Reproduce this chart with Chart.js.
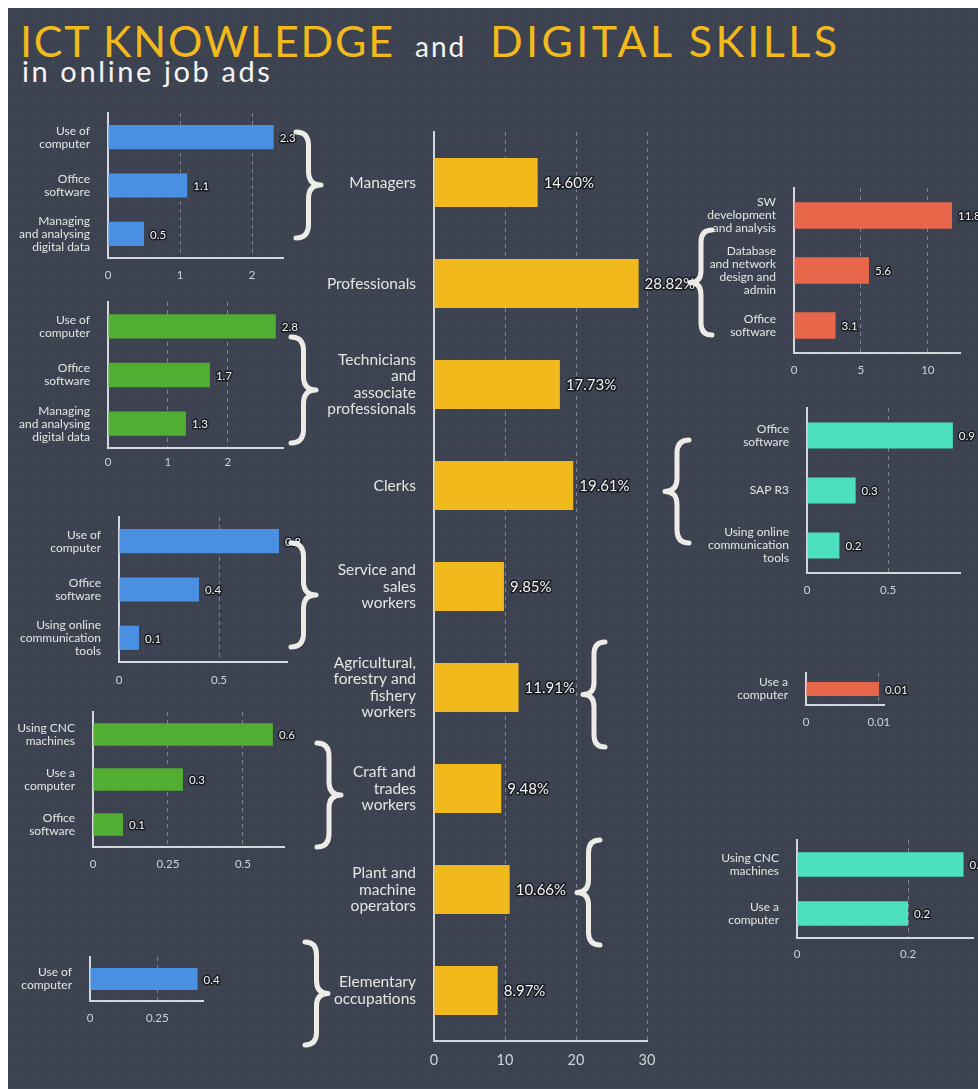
<!DOCTYPE html>
<html>
<head>
<meta charset="utf-8">
<script src="https://cdn.jsdelivr.net/npm/chart.js@4.4.1/dist/chart.umd.min.js"></script>
<style>
    html, body { margin: 0; padding: 0; background: #fff; }
    body { width: 978px; height: 1089px; position: relative; overflow: hidden; font-family: Lato, 'Open Sans', sans-serif; }
    #board {
        position: absolute; left: 8px; top: 8px; right: 0; bottom: 0;
        background-color: #3c4250;
        background-image:
            linear-gradient(rgba(255,255,255,0.025) 1px, transparent 1px),
            linear-gradient(90deg, rgba(255,255,255,0.025) 1px, transparent 1px);
        background-size: 15px 15px;
    }
    .title { position: absolute; white-space: nowrap; line-height: 1; font-weight: 400; }
    .yellow { color: #f1b91c; }
    .white { color: #f4f4f4; }
    canvas { position: absolute; }
    #braces { position: absolute; left: 0; top: 0; pointer-events: none; }
</style>
</head>
<body>
<div id="board"></div>
<div class="title yellow" style="left:20px; top:19px; font-size:43px; letter-spacing:1.8px;">ICT KNOWLEDGE</div>
<div class="title white" style="left:415px; top:32px; font-size:28px; letter-spacing:2px;">and</div>
<div class="title yellow" style="left:490px; top:19px; font-size:43px; letter-spacing:3.4px;">DIGITAL SKILLS</div>
<div class="title white" style="left:22px; top:56px; font-size:29px; letter-spacing:2.6px;">in online job ads</div>
<svg id="braces" width="978" height="1089"></svg>

<script>
// occupation groups (centre chart)
const occupations = [
    ['Managers'],
    ['Professionals'],
    ['Technicians', 'and', 'associate', 'professionals'],
    ['Clerks'],
    ['Service and', 'sales', 'workers'],
    ['Agricultural,', 'forestry and', 'fishery', 'workers'],
    ['Craft and', 'trades', 'workers'],
    ['Plant and', 'machine', 'operators'],
    ['Elementary', 'occupations']
];
const occupationShare = [14.60, 28.82, 17.73, 19.61, 9.85, 11.91, 9.48, 10.66, 8.97];

// skills per occupation group
const managersSkills = [['Use of', 'computer'], ['Office', 'software'], ['Managing', 'and analysing', 'digital data']];
const managersValues = [2.3, 1.1, 0.5];

const professionalsSkills = [['SW', 'development', 'and analysis'], ['Database', 'and network', 'design and', 'admin'], ['Office', 'software']];
const professionalsValues = [11.8, 5.6, 3.1];

const techniciansSkills = [['Use of', 'computer'], ['Office', 'software'], ['Managing', 'and analysing', 'digital data']];
const techniciansValues = [2.8, 1.7, 1.3];

const clerksSkills = [['Office', 'software'], 'SAP R3', ['Using online', 'communication', 'tools']];
const clerksValues = [0.9, 0.3, 0.2];

const serviceSkills = [['Use of', 'computer'], ['Office', 'software'], ['Using online', 'communication', 'tools']];
const serviceValues = [0.8, 0.4, 0.1];

const agriSkills = [['Use a', 'computer']];
const agriValues = [0.01];

const craftSkills = [['Using CNC', 'machines'], ['Use a', 'computer'], ['Office', 'software']];
const craftValues = [0.6, 0.3, 0.1];

const plantSkills = [['Using CNC', 'machines'], ['Use a', 'computer']];
const plantValues = [0.3, 0.2];

const elementarySkills = [['Use of', 'computer']];
const elementaryValues = [0.4];

const BLUE = '#4a90e2', GREEN = '#52ad33', ORANGE = '#e8674b', TEAL = '#4de0c0', YELLOW = '#f1b91c';
const AXIS = '#d4d7dd', GRID = 'rgba(205,210,220,0.45)', TXT = '#e4e4e4', TICK = '#cfd2d8';

// draws the value next to each bar
const valueLabels = {
    id: 'valueLabels',
    afterDatasetsDraw(chart, args, opts) {
        const ctx = chart.ctx;
        const values = chart.data.datasets[0].data;
        ctx.save();
        ctx.font = opts.size + 'px Lato, sans-serif';
        ctx.textBaseline = 'middle';
        ctx.textAlign = 'left';
        ctx.lineJoin = 'round';
        chart.getDatasetMeta(0).data.forEach((bar, i) => {
            const txt = opts.pct ? values[i].toFixed(2) + '%' : String(values[i]);
            ctx.lineWidth = 3;
            ctx.strokeStyle = 'rgba(22,24,30,0.9)';
            ctx.strokeText(txt, bar.x + 6, bar.y + 1);
            ctx.fillStyle = '#f2f2f2';
            ctx.fillText(txt, bar.x + 6, bar.y + 1);
        });
        ctx.restore();
    }
};

// keep the plot box fixed: no extra room reserved for label overhang
function pinScale(s, key, size) {
    s[key] = size;
    s.paddingTop = 0; s.paddingBottom = 0; s.paddingLeft = 0; s.paddingRight = 0;
}

function barChart(f, labels, values, color) {
    const yW = f.yW || 120, pt = 6, pr = 60, xH = 30;
    const w = f.x1 - f.x0 + yW + pr, h = f.y1 - f.y0 + pt + xH;
    const cv = document.createElement('canvas');
    cv.width = w; cv.height = h;
    cv.style.left = (f.x0 - yW) + 'px';
    cv.style.top = (f.y0 - pt) + 'px';
    cv.style.width = w + 'px';
    cv.style.height = h + 'px';
    document.body.insertBefore(cv, document.getElementById('braces'));

    const lblFont = { family: 'Lato', size: f.lbl || 12, lineHeight: f.lh || 1.08 };
    const tickFont = { family: 'Lato', size: f.tick || 11.5 };

    new Chart(cv, {
        type: 'bar',
        data: {
            labels: labels,
            datasets: [{ data: values, backgroundColor: color, barPercentage: f.bp || 0.5, categoryPercentage: 1 }]
        },
        options: {
            indexAxis: 'y',
            responsive: false,
            animation: false,
            layout: { padding: { top: pt, right: pr, left: 0, bottom: 0 } },
            plugins: {
                legend: { display: false },
                tooltip: { enabled: false },
                valueLabels: { size: f.val || 11.5, pct: !!f.pct }
            },
            scales: {
                x: {
                    min: 0, max: f.max,
                    ticks: {
                        stepSize: f.step, includeBounds: false, color: TICK, font: tickFont,
                        padding: f.tp || 10, maxRotation: 0, autoSkip: false,
                        callback: v => String(+v.toFixed(4))
                    },
                    grid: {
                        drawTicks: false, lineWidth: 1,
                        color: c => (c.tick && c.tick.value === 0) ? 'transparent' : GRID
                    },
                    border: { display: true, color: AXIS, width: 2, dash: [4, 4] },
                    afterFit: s => pinScale(s, 'height', xH)
                },
                y: {
                    ticks: { color: TXT, font: lblFont, padding: 18, autoSkip: false },
                    grid: { display: false, drawTicks: false },
                    border: { display: true, color: AXIS, width: 2 },
                    afterFit: s => pinScale(s, 'width', yW)
                }
            }
        },
        plugins: [valueLabels]
    });
}

// curly braces linking groups to their skills
function brace(x, y0, y1, w, dir) {
    const mid = (y0 + y1) / 2, s = x + dir * w * 0.5, t = x + dir * w, r = w * 0.55;
    return `M${x},${y0} Q${s},${y0} ${s},${y0 + r} L${s},${mid - r} Q${s},${mid} ${t},${mid} ` +
           `Q${s},${mid} ${s},${mid + r} L${s},${y1 - r} Q${s},${y1} ${x},${y1}`;
}
const braceList = [
    [296, 132, 238, 25, 1], [291, 337, 443, 25, 1], [291, 543, 647, 25, 1],
    [317, 743, 847, 24, 1], [305, 942, 1045, 23, 1],
    [712, 230, 335, 22, -1], [689, 440, 543, 24, -1], [605, 642, 747, 22, -1], [600, 840, 945, 23, -1]
];
document.getElementById('braces').innerHTML = braceList.map(b =>
    `<path d="${brace(...b)}" fill="none" stroke="#ecebe6" stroke-width="5" stroke-linecap="round" stroke-linejoin="round"/>`
).join('');

barChart({ x0: 434, x1: 647, y0: 132, y1: 1041, max: 30, step: 10, yW: 150, bp: 0.485,
           lbl: 15.5, lh: 1.06, tick: 14.5, tp: 11, val: 15, pct: true },
         occupations, occupationShare, YELLOW);

barChart({ x0: 108, x1: 283, y0: 113, y1: 258, max: 2.43, step: 1 }, managersSkills, managersValues, BLUE);
barChart({ x0: 108, x1: 283, y0: 302, y1: 448, max: 2.92, step: 1, tp: 7 }, techniciansSkills, techniciansValues, GREEN);
barChart({ x0: 119, x1: 287, y0: 517, y1: 662, max: 0.84, step: 0.5, tp: 11 }, serviceSkills, serviceValues, BLUE);
barChart({ x0: 93, x1: 284, y0: 712, y1: 847, max: 0.637, step: 0.25 }, craftSkills, craftValues, GREEN);
barChart({ x0: 90, x1: 203, y0: 957, y1: 1001, max: 0.42, step: 0.25 }, elementarySkills, elementaryValues, BLUE);

barChart({ x0: 794, x1: 960, y0: 188, y1: 353, max: 12.4, step: 5, bp: 0.48 }, professionalsSkills, professionalsValues, ORANGE);
barChart({ x0: 807, x1: 960, y0: 408, y1: 573, max: 0.944, step: 0.5, bp: 0.47 }, clerksSkills, clerksValues, TEAL);
barChart({ x0: 806, x1: 884, y0: 673, y1: 705, max: 0.0107, step: 0.01, bp: 0.44 }, agriSkills, agriValues, ORANGE);
barChart({ x0: 797, x1: 973, y0: 840, y1: 938, max: 0.317, step: 0.2, tp: 9 }, plantSkills, plantValues, TEAL);
</script>
</body>
</html>
